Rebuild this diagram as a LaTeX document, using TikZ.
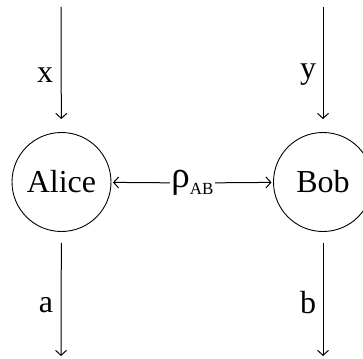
\documentclass[tikz,border=0pt]{standalone}
\usepackage{fontspec}
\setmainfont{Liberation Serif}
\usetikzlibrary{arrows.meta}
\tikzset{
	partei/.style={draw, circle, line width=0.9pt, minimum size=99pt, inner sep=0pt, font=\fontsize{32}{38}\selectfont},
	pfeil/.style={line width=1pt, -{Straight Barb[length=5pt,width=11pt]}},
	beschr/.style={inner sep=0pt, font=\fontsize{32}{38}\selectfont}
}
\begin{document}
\begin{tikzpicture}[x=1pt,y=-1pt]
		\useasboundingbox (0,0) rectangle (363,358);
		
		% Alice und Bob
		\node[partei] (alice) at (61.5,182) {Alice};
		\node[partei] (bob) at (323,182) {Bob};
		
		% gemeinsamer Zustand
		\node[inner sep=1.5pt, font=\fontsize{37}{40}\selectfont] (rho) at (192.5,183)
			{ρ{\fontsize{17}{17}\selectfont\raisebox{-6.5pt}{AB}}};
		\draw[pfeil, shorten >=1.5pt] (rho) -- (alice);
		\draw[pfeil, shorten >=1.5pt] (rho) -- (bob);
		
		% Eingaenge
		\coordinate (xin) at (61,7);
		\coordinate (yin) at (323,7);
		\draw[pfeil, shorten >=13pt] (xin) -- (alice);
		\draw[pfeil, shorten >=13pt] (yin) -- (bob);
		\node[beschr] (xlab) at (45,75) {x};
		\node[beschr] (ylab) at (308,75) {y};
		
		% Ausgaenge
		\coordinate (aout) at (61,356);
		\coordinate (bout) at (323,356);
		\draw[pfeil, shorten <=11pt] (alice) -- (aout);
		\draw[pfeil, shorten <=11pt] (bob) -- (bout);
		\node[beschr] (alab) at (46,305) {a};
		\node[beschr] (blab) at (308,303) {b};
	\end{tikzpicture}
\end{document}
